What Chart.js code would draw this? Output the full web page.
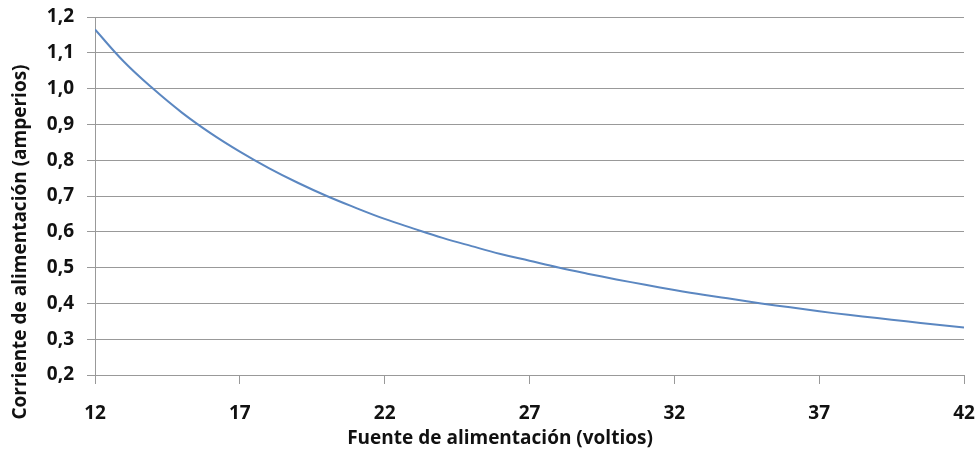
<!DOCTYPE html>
<html>
<head>
<meta charset="utf-8">
<script src="https://cdn.jsdelivr.net/npm/chart.js@4/dist/chart.umd.min.js"></script>
<style>
html,body{margin:0;padding:0;background:#fff;}
#wrap{width:976px;height:456px;}
</style>
</head>
<body>
<div id="wrap"><canvas id="c" width="976" height="456"></canvas></div>
<script>
const voltages = [12,13,14,15,16,17,18,19,20,21,22,23,24,25,26,27,28,29,30,31,32,33,34,35,36,37,38,39,40,41,42];
const currents = [1.165,1.075,1.0,0.933,0.875,0.824,0.778,0.737,0.70,0.667,0.636,0.609,0.583,0.56,0.538,0.519,0.50,0.483,0.467,0.452,0.4375,0.424,0.412,0.40,0.389,0.378,0.368,0.359,0.35,0.341,0.333];
const xTitle = 'Fuente de alimentación (voltios)';
const yTitle = 'Corriente de alimentación (amperios)';

const FONT = '"Open Sans", "DejaVu Sans", sans-serif';

const titlePlugin = {
  id: 'axisTitles',
  afterDraw(chart) {
    const ctx = chart.ctx;
    ctx.save();
    ctx.fillStyle = '#111';
    ctx.font = 'bold 19px ' + FONT;
    ctx.textAlign = 'center';
    ctx.textBaseline = 'middle';
    ctx.fillText(xTitle, 500, 439);
    ctx.translate(21, 242);
    ctx.rotate(-Math.PI / 2);
    ctx.fillText(yTitle, 0, 0);
    ctx.restore();
  }
};

new Chart(document.getElementById('c'), {
  type: 'line',
  data: {
    datasets: [{
      data: voltages.map((v, i) => ({x: v, y: currents[i]})),
      borderColor: '#5b87c1',
      borderWidth: 2,
      pointRadius: 0,
      tension: 0.4,
      fill: false
    }]
  },
  options: {
    responsive: false,
    animation: false,
    layout: {padding: {left: 0, right: 0, top: 17, bottom: 0}},
    plugins: {legend: {display: false}, tooltip: {enabled: false}},
    scales: {
      x: {
        type: 'linear',
        min: 12, max: 42,
        afterFit(s) { s.height = 81; s.paddingLeft = 0; s.paddingRight = 12; },
        border: {color: '#999', width: 1},
        grid: {drawOnChartArea: false, tickLength: 9, color: '#999'},
        ticks: {stepSize: 5, color: '#111', font: {family: FONT, size: 19, weight: 'bold'}, padding: 18, maxRotation: 0}
      },
      y: {
        min: 0.2, max: 1.2,
        afterFit(s) { s.width = 95; s.paddingTop = 0; s.paddingBottom = 0; },
        border: {color: '#999', width: 1},
        grid: {color: '#999', tickLength: 8},
        ticks: {stepSize: 0.1, color: '#111', font: {family: FONT, size: 19, weight: 'bold'}, padding: 13,
          callback: v => v.toFixed(1).replace('.', ',')}
      }
    }
  },
  plugins: [titlePlugin]
});
</script>
</body>
</html>
